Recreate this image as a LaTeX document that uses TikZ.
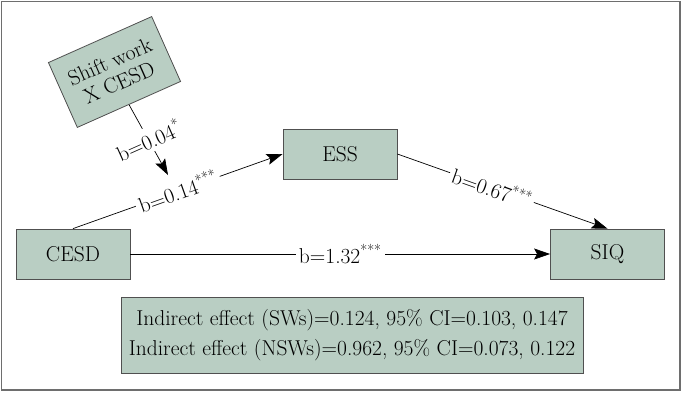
\documentclass[tikz,border=0pt]{standalone}
\usetikzlibrary{arrows.meta,calc}
\definecolor{boxfill}{RGB}{185,206,195}
\definecolor{boxline}{RGB}{80,80,80}
\definecolor{framec}{RGB}{110,110,110}
\begin{document}
\begin{tikzpicture}[x=1pt,y=-1pt,
  box/.style={draw=boxline, line width=0.8pt, fill=boxfill, minimum width=114pt, minimum height=50pt, inner sep=0pt, font=\fontsize{21.5}{25}\selectfont},
  conn/.style={draw=black, line width=0.7pt, -{Stealth[length=16pt,width=11pt,inset=3pt]}},
  lab/.style={fill=white, inner sep=3pt, font=\fontsize{21.5}{25}\selectfont}
]
\useasboundingbox (0,0) rectangle (682,392);
\draw[framec, line width=1.2pt] (1.5,1.5) rectangle (680,390);
\node[box] (cesd) at (73,254) {CESD};
\node[box] (ess) at (340,154) {ESS};
\node[box] (siq) at (607.5,254) {SIQ};
\node[box, minimum width=113pt, minimum height=71pt, rotate=24, align=center, font=\fontsize{21.5}{23}\selectfont] (sw) at (114.5,72) {Shift work\\X CESD};
\node[box, minimum width=462pt, minimum height=76pt, align=center, font=\fontsize{21.5}{30}\selectfont] (ind) at (352,335) {Indirect effect (SWs)=0.124, 95\% CI=0.103, 0.147\\Indirect effect (NSWs)=0.962, 95\% CI=0.073, 0.122};
\coordinate (modtip) at (168,175);
\draw[conn] (cesd.north) -- node[lab, sloped] {b=0.14\textsuperscript{***}} (ess.west);
\draw[conn] (ess.east) -- node[lab, sloped, pos=0.45] {b=0.67\textsuperscript{***}} (siq.north);
\draw[conn] (cesd.east) -- node[lab] {b=1.32\textsuperscript{***}} (siq.west);
\draw[conn] (sw.south) -- node[lab, rotate=24] {b=0.04\textsuperscript{*}} (modtip);
\end{tikzpicture}
\end{document}
